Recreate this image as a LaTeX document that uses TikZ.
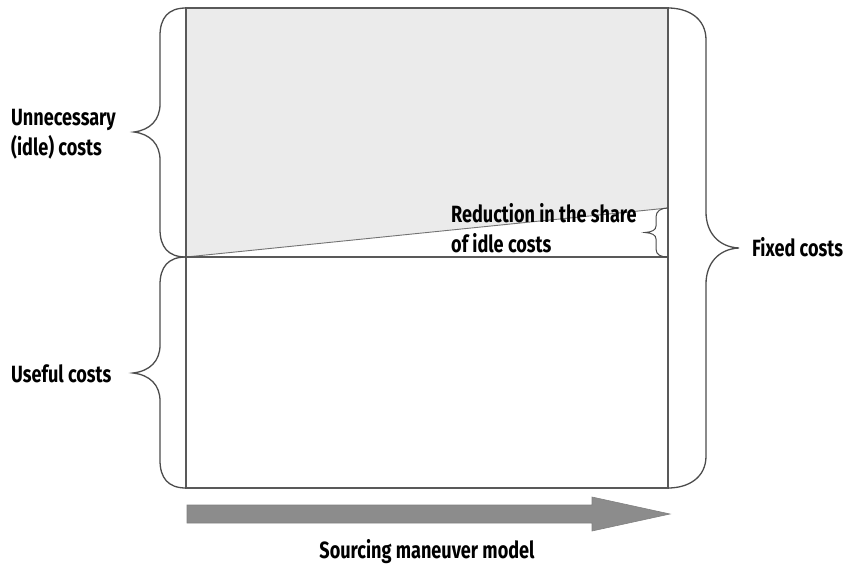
\documentclass[tikz,border=0pt]{standalone}
\usepackage{fontspec}
\setmainfont{Fira Sans}[FakeStretch=0.77,BoldFont={Fira Sans Bold}]
\begin{document}
\begin{tikzpicture}[x=1pt,y=-1pt,
  frame/.style={draw=black!65,line width=1.4pt},
  brace/.style={draw=black!70,line width=1.3pt},
  lbl/.style={font=\bfseries\fontsize{23.5}{30}\selectfont,inner sep=0pt,align=left,text=black}]
\useasboundingbox (0,0) rectangle (852,565);
% shaded idle area
\fill[black!8] (186,8) -- (668,8) -- (668,208) -- (186,257) -- cycle;
\draw[black!55,line width=0.9pt] (186,257) -- (668,208);
% frame
\draw[frame] (186,8) rectangle (668,488);
\draw[frame] (186,257) -- (668,257);
% left upper brace
\draw[brace] (186,8) .. controls (168,8) and (160,18) .. (160,36) -- (160,104)
  .. controls (160,120) and (150,130) .. (134,132) .. controls (150,134) and (160,144) .. (160,160)
  -- (160,229) .. controls (160,247) and (168,257) .. (186,257);
% left lower brace
\draw[brace] (186,257) .. controls (168,257) and (160,267) .. (160,285) -- (160,345)
  .. controls (160,361) and (150,371) .. (133,373) .. controls (150,375) and (160,385) .. (160,401)
  -- (160,460) .. controls (160,478) and (168,488) .. (186,488);
% right brace
\draw[brace] (668,8) .. controls (688,8) and (706,18) .. (706,40) -- (706,212)
  .. controls (706,232) and (718,247) .. (739,248) .. controls (718,249) and (706,264) .. (706,284)
  -- (706,456) .. controls (706,478) and (688,488) .. (668,488);
% small brace
\draw[brace,line width=1pt] (668,208) .. controls (661,208) and (656,211) .. (656,217) -- (656,226)
  .. controls (656,230) and (652,232) .. (645,232.5) .. controls (652,233) and (656,235) .. (656,239)
  -- (656,249) .. controls (656,255) and (661,257) .. (668,257);
% arrow
\fill[black!45,draw=black!50,line width=0.6pt] (187,505) -- (592,505) -- (592,497) -- (670,514) -- (592,531) -- (592,523) -- (187,523) -- cycle;
% labels
\node[lbl,anchor=base west] (unn) at (11,155) {Unnecessary\\(idle) costs};
\node[lbl,anchor=base west] (use) at (11,382) {Useful costs};
\node[lbl,anchor=base west] (fix) at (752,256) {Fixed costs};
\node[lbl,anchor=base west] (red) at (451,252) {Reduction in the share\\of idle costs};
\node[lbl,anchor=base] (src) at (427,558) {Sourcing maneuver model};
\end{tikzpicture}
\end{document}
